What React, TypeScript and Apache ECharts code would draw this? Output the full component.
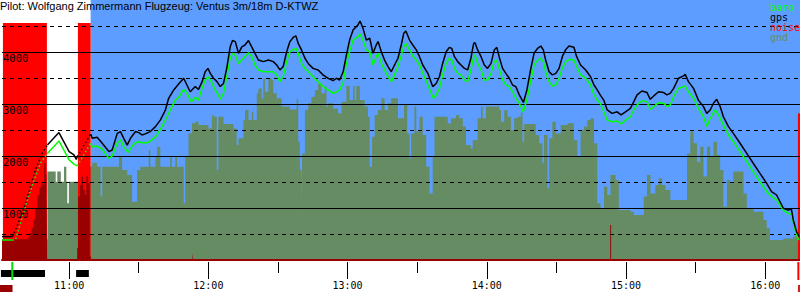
import { useEffect, useRef } from "react";
import * as echarts from "echarts";

const chartTitle = "Pilot: Wolfgang Zimmermann Flugzeug: Ventus 3m/18m D-KTWZ";

// time axis in minutes since midnight
const timeStart = 630.2;
const timeEnd = 975.0;
const hourTicks = [660, 720, 780, 840, 900, 960];
const altitudeLabels = [1000, 2000, 3000, 4000];

// engine running periods (red background, black bars under the axis)
const enginePeriods = [
  [630.6, 649.6],
  [663.0, 668.5],
];
const engineNoiseTop = 4560;
// final engine / noise marker at landing
const landingNoise = [974.1, 975.0, 2820];
// periods logged with sparse fixes (drawn dotted)
const sparseLogging = [
  [634.7, 649.8],
  [662.7, 668.5],
];
const takeoffTime = 635.5;
const landingTime = 974.3;
const groundPeriods = [
  [630.2, 635.6],
  [974.1, 975.0],
];

const gpsTrack: number[][] = [
  [630.2, 450], [634.7, 450],
  [636.0, 575], [639.0, 905], [642.1, 1345], [644.6, 1730], [647.7, 2060], [649.8, 2210],
  [654.8, 2450], [659.2, 2085], [661.3, 2020], [662.3, 1935], [662.7, 1985],
  [668.5, 2425],
  [669.2, 2340], [671.3, 2360], [673.5, 2245], [676.4, 2085], [677.8, 2115], [680.0, 2435],
  [681.4, 2470], [682.8, 2340], [684.3, 2210], [685.7, 2340], [687.9, 2470], [689.3, 2450],
  [690.7, 2405], [692.1, 2425], [694.3, 2470], [696.5, 2565], [698.6, 2690], [700.8, 2885],
  [702.2, 3110], [704.4, 3270], [706.5, 3385], [708.7, 3495], [710.1, 3365], [711.5, 3235],
  [713.7, 3335], [715.1, 3280], [716.6, 3420], [718.0, 3620], [719.2, 3685], [720.2, 3590],
  [721.6, 3495], [723.1, 3430], [724.5, 3335], [725.9, 3395], [727.3, 3685], [728.8, 4100],
  [729.8, 4220], [731.0, 4200], [732.4, 3975], [733.8, 4100], [735.2, 4135], [736.7, 4220],
  [738.1, 4100], [739.5, 3975], [741.0, 3845], [743.1, 3815], [745.3, 3845], [747.4, 3815],
  [748.9, 3750], [750.3, 3655], [751.7, 3720], [753.2, 4005], [754.6, 4200], [756.0, 4280],
  [757.2, 4310], [758.2, 4165], [759.6, 4040], [761.1, 3880], [762.5, 3780], [764.6, 3685],
  [766.8, 3655], [768.9, 3560], [771.1, 3495], [773.3, 3450], [774.7, 3495], [776.1, 3460],
  [777.6, 3620], [779.0, 3940], [780.4, 4230], [781.9, 4425], [784.0, 4520], [784.9, 4595],
  [786.2, 4455], [787.6, 4230], [789.1, 4265], [790.5, 3975], [791.9, 4135], [792.7, 4200],
  [794.1, 4005], [795.5, 3845], [797.0, 3720], [798.4, 3620], [799.8, 3750], [801.3, 3880],
  [802.7, 4135], [803.8, 4360], [804.7, 4405], [806.3, 4230], [807.7, 4135], [809.2, 4040],
  [810.6, 3910], [812.0, 3750], [814.2, 3590], [816.3, 3335], [817.8, 3395], [819.2, 3525],
  [820.6, 3780], [822.1, 4005], [823.5, 4090], [824.5, 4070], [825.7, 3910], [827.1, 3815],
  [828.5, 3750], [830.0, 3685], [831.4, 3655], [832.8, 3880], [834.0, 4165], [834.6, 4180],
  [835.7, 4040], [837.2, 3910], [838.6, 3750], [840.0, 3685], [841.5, 3780], [842.9, 4040],
  [844.0, 4090], [845.0, 3910], [846.5, 3685], [847.9, 3590], [849.4, 3495], [850.8, 3365],
  [852.2, 3335], [853.7, 3175], [855.5, 3030], [857.0, 3270], [858.7, 3685], [860.1, 3975],
  [861.6, 4070], [863.0, 4115], [864.1, 4040], [865.1, 3845], [866.6, 3620], [868.0, 3560],
  [869.5, 3590], [870.9, 3685], [872.3, 3910], [873.8, 4050], [875.2, 4115], [877.3, 4090],
  [878.5, 3910], [880.2, 3750], [882.4, 3655], [884.5, 3525], [886.0, 3365], [887.4, 3270],
  [888.8, 3165], [890.2, 3075], [891.7, 2885], [893.8, 2820], [896.0, 2850], [897.7, 2790],
  [899.6, 2850], [901.7, 2915], [903.2, 3045], [904.6, 3175], [906.7, 3250], [908.9, 3220],
  [910.3, 3090], [911.8, 3155], [913.9, 3235], [916.1, 3220], [917.5, 3175], [918.9, 3205],
  [920.4, 3300], [922.5, 3495], [924.7, 3540], [925.4, 3570], [926.8, 3430], [929.0, 3300],
  [931.1, 3075], [933.3, 2950], [934.7, 2820], [936.2, 2885], [937.6, 3015], [939.0, 3090],
  [940.5, 2950], [941.9, 2755], [944.1, 2565], [946.2, 2435], [949.1, 2245], [952.0, 2050],
  [954.8, 1860], [957.7, 1665], [960.6, 1475], [962.7, 1315], [964.9, 1250], [967.8, 995],
  [969.9, 960], [971.3, 975], [972.1, 770], [973.5, 545], [974.6, 450],
];

const baroTrack: number[][] = [
  [630.2, 385], [634.7, 385],
  [636.0, 385], [638.2, 710], [641.2, 1155], [644.1, 1540], [646.9, 1865], [649.8, 2050],
  [654.8, 2290], [659.2, 1925], [661.3, 1845], [662.7, 1810],
  [668.5, 2245],
  [669.2, 2180], [671.3, 2190], [673.5, 2130], [676.4, 1955], [677.8, 2000], [680.0, 2245],
  [681.4, 2310], [682.8, 2180], [684.7, 2065], [686.4, 2190], [687.9, 2255], [689.3, 2275],
  [690.7, 2255], [692.9, 2255], [695.0, 2310], [697.2, 2405], [699.3, 2565], [701.5, 2755],
  [703.6, 2950], [705.1, 3075], [706.5, 3130], [708.7, 3280], [710.1, 3205], [712.0, 3045],
  [713.7, 3130], [715.1, 3075], [716.6, 3300], [718.0, 3460], [719.2, 3525], [720.6, 3430],
  [722.3, 3270], [723.7, 3175], [724.5, 3090], [725.9, 3205], [727.3, 3525], [728.8, 3880],
  [729.8, 3975], [731.0, 3940], [732.4, 3780], [733.8, 3845], [735.2, 3910], [736.7, 3985],
  [738.1, 3910], [739.5, 3750], [741.0, 3655], [743.1, 3620], [745.3, 3620], [747.4, 3620],
  [748.9, 3560], [750.3, 3430], [751.7, 3525], [753.2, 3815], [754.6, 4005], [756.0, 4050],
  [757.2, 4070], [758.2, 3975], [759.6, 3780], [761.1, 3685], [762.5, 3620], [764.6, 3525],
  [766.8, 3430], [768.9, 3335], [771.1, 3270], [773.3, 3205], [774.7, 3235], [776.1, 3270],
  [777.6, 3395], [779.0, 3780], [780.4, 4005], [781.9, 4230], [784.0, 4295], [784.9, 4345],
  [786.2, 4230], [787.6, 4040], [789.1, 4005], [790.5, 3750], [791.9, 3910], [792.7, 3975],
  [794.1, 3780], [795.5, 3655], [797.0, 3525], [798.4, 3430], [799.8, 3560], [801.3, 3720],
  [802.7, 3925], [803.8, 4100], [804.7, 4165], [806.3, 4040], [807.7, 3925], [809.2, 3845],
  [810.6, 3750], [812.0, 3590], [814.2, 3365], [816.6, 3110], [817.8, 3175], [819.2, 3300],
  [820.6, 3560], [822.1, 3780], [823.5, 3880], [824.5, 3845], [825.7, 3685], [827.1, 3590],
  [828.5, 3560], [830.0, 3460], [831.4, 3430], [832.8, 3655], [834.0, 3910], [834.6, 3940],
  [835.7, 3780], [837.2, 3655], [838.6, 3460], [840.0, 3460], [841.5, 3590], [842.9, 3815],
  [844.0, 3845], [845.0, 3685], [846.5, 3460], [847.9, 3365], [849.4, 3335], [850.8, 3235],
  [852.2, 3110], [853.7, 3015], [855.4, 2850], [857.0, 3075], [858.7, 3460], [860.1, 3750],
  [861.6, 3845], [863.0, 3880], [864.1, 3815], [865.1, 3620], [866.6, 3430], [868.0, 3345],
  [869.5, 3365], [870.9, 3495], [872.3, 3685], [873.8, 3815], [875.2, 3860], [877.3, 3845],
  [878.5, 3720], [880.2, 3560], [882.4, 3495], [884.5, 3365], [886.0, 3175], [887.4, 3075],
  [888.8, 3005], [890.2, 2850], [891.7, 2690], [893.8, 2660], [896.0, 2675], [897.7, 2615],
  [899.6, 2690], [901.7, 2755], [903.2, 2885], [904.6, 2980], [906.7, 3065], [908.9, 3045],
  [910.3, 2895], [911.8, 2950], [913.9, 3025], [916.1, 3015], [917.5, 2950], [918.9, 2980],
  [920.4, 3140], [922.5, 3300], [924.7, 3335], [925.4, 3345], [926.8, 3235], [929.0, 3110],
  [931.1, 2915], [933.3, 2755], [934.7, 2565], [936.2, 2725], [938.3, 2885], [939.8, 2790],
  [941.9, 2595], [944.1, 2405], [946.2, 2275], [949.1, 2085], [952.0, 1890], [954.8, 1700],
  [957.7, 1505], [960.6, 1315], [962.7, 1220], [964.9, 1155], [967.8, 960], [969.9, 895],
  [971.3, 885], [972.7, 610], [974.1, 415], [974.6, 385],
];

// terrain elevation under the track (held until the next point)
const groundElevation: number[][] = [
  [630.2, 400], [649.8, 1700], [653.4, 1505], [654.1, 1700], [655.6, 1505], [657.0, 1795],
  [658.0, 1505], [658.4, 1090], [659.1, 1505], [663.2, 1800], [669.2, 1870], [671.3, 1795],
  [672.8, 1220], [673.5, 1795], [680.7, 1985], [682.1, 1730], [684.3, 1635], [686.4, 1120],
  [688.6, 1730], [690.0, 1795], [693.6, 2115], [694.3, 1795], [696.5, 1985], [697.2, 2180],
  [698.6, 1795], [702.9, 1985], [703.6, 1795], [705.1, 1985], [705.8, 1795], [708.7, 1090],
  [709.4, 1985], [710.8, 2435], [712.3, 2630], [713.7, 2660], [715.1, 2595], [719.4, 2530],
  [720.9, 2790], [721.6, 2755], [723.0, 1730], [723.7, 2755], [725.9, 2615], [730.2, 2530],
  [731.6, 2210], [732.4, 2340], [734.5, 2690], [735.2, 2885], [736.7, 2690], [738.1, 2850],
  [738.8, 2690], [740.3, 3205], [741.0, 3300], [742.4, 3110], [743.1, 3495], [743.8, 3235],
  [745.3, 3495], [746.7, 3460], [747.4, 3205], [748.9, 3110], [751.0, 2950], [754.6, 2895],
  [757.5, 3090], [758.2, 2275], [758.9, 1730], [759.6, 960], [759.9, 2050], [761.1, 2885],
  [762.5, 3015], [763.9, 3140], [765.4, 3270], [766.8, 3395], [768.2, 3205], [769.7, 3335],
  [770.4, 2950], [771.1, 3015], [773.3, 2915], [775.4, 2820], [776.9, 3045], [779.0, 3345],
  [780.4, 3075], [781.9, 3345], [782.6, 3075], [783.3, 3345], [784.8, 3075], [786.9, 2950],
  [788.3, 2755], [789.1, 1795], [790.1, 2370], [791.2, 2790], [792.6, 2885], [794.1, 3110],
  [795.5, 2885], [797.0, 3015], [798.4, 3110], [801.3, 2725], [803.9, 2980], [805.3, 2435],
  [806.3, 1955], [807.0, 2435], [808.4, 2950], [809.2, 2470], [810.6, 2755], [812.0, 2405],
  [813.5, 1795], [814.9, 1280], [816.3, 1985], [817.1, 2755], [822.8, 2630], [824.2, 2725],
  [826.4, 2790], [827.8, 2725], [829.3, 2565], [830.7, 2210], [832.8, 2145], [833.6, 2310],
  [835.7, 2725], [837.2, 2950], [837.9, 2725], [839.3, 2950], [845.1, 2885], [845.8, 2660],
  [847.2, 2885], [848.6, 2755], [850.1, 2500], [851.5, 2725], [852.9, 2755], [854.4, 2835],
  [855.1, 2275], [855.8, 2615], [860.8, 2405], [862.3, 2245], [863.7, 1860], [864.4, 2405],
  [865.9, 1380], [866.6, 2340], [868.0, 2660], [869.5, 2435], [871.6, 2595], [874.5, 2630],
  [877.3, 2310], [878.8, 1985], [880.2, 2500], [881.7, 2565], [883.1, 2690], [884.5, 2725],
  [886.0, 2245], [887.4, 1090], [888.8, 995], [890.3, 1410], [891.7, 1250], [893.1, 1635],
  [895.3, 1540], [896.7, 960], [901.8, 930], [903.2, 865], [907.5, 1220], [908.9, 1635],
  [910.4, 1280], [912.5, 1440], [914.0, 1570], [915.4, 1440], [916.8, 1345], [919.0, 1155],
  [926.2, 2050], [927.6, 2470], [929.0, 2245], [930.5, 1890], [931.9, 2180], [933.3, 1605],
  [934.8, 2180], [936.2, 1985], [937.6, 2275], [939.1, 2020], [940.5, 1730], [941.9, 1025],
  [943.4, 1540], [944.8, 1475], [946.2, 1700], [950.6, 1280], [952.0, 995], [954.9, 930],
  [959.2, 770], [960.6, 610], [962.0, 385], [967.8, 415], [972.1, 450], [975.0, 450],
];

// engine noise level, drawn on the altitude scale
const noiseLevel: number[][] = [
  [630.2, 400], [641.2, 430], [642.1, 520], [643.0, 620], [643.8, 780], [644.6, 1000],
  [645.5, 1250], [646.4, 1400], [647.2, 1500], [647.7, 1450], [648.4, 1860], [649.0, 1650],
  [649.4, 1300], [649.7, 15], [662.7, 225], [663.1, 1220], [663.9, 1440], [664.6, 1605],
  [665.3, 1345], [666.0, 1250], [666.6, 1605], [667.4, 1475], [668.1, 65], [668.6, 15],
  [712.5, 135], [712.8, 15], [893.0, 675], [893.4, 15], [975.0, 15],
];

const C = {
  sky: "#5c9dff",
  white: "#ffffff",
  engine: "#ff0000",
  noise: "#990000",
  ground: "#668c64",
  baro: "#00ff00",
  gps: "#000000",
};
const MONO = "DejaVu Sans Mono";

function splitTrack(track: number[][], ranges: number[][]) {
  const bounds = [track[0][0], ...ranges.flat(), track[track.length - 1][0]];
  const solid: number[][][] = [];
  const dotted: number[][][] = [];
  for (let i = 0; i < bounds.length - 1; i++) {
    const a = bounds[i];
    const b = bounds[i + 1];
    const pts = track.filter(([t]) => t >= a && t <= b);
    (i % 2 === 0 ? solid : dotted).push(pts);
  }
  return { solid, dotted };
}

function trackSeries(name: string, track: number[][], color: string) {
  const { solid, dotted } = splitTrack(track, sparseLogging);
  const mk = (pts: number[][], dots: boolean) => ({
    type: "line",
    name,
    data: pts,
    xAxisIndex: 0,
    yAxisIndex: 0,
    symbol: "none",
    showSymbol: false,
    silent: true,
    z: 6,
    color,
    lineStyle: { color, width: 1.5, type: dots ? [1.5, 2.5] : "solid" },
  });
  return [...solid.map((p) => mk(p, false)), ...dotted.map((p) => mk(p, true))];
}

function bandSeries(data: number[][], color: string, z: number) {
  return {
    type: "custom",
    xAxisIndex: 0,
    yAxisIndex: 0,
    silent: true,
    z,
    data,
    encode: { x: [0, 1], y: 2 },
    renderItem: (_p: any, api: any) => {
      const a = api.coord([api.value(0), api.value(2)]);
      const b = api.coord([api.value(1), 0]);
      return {
        type: "rect",
        shape: { x: a[0], y: a[1], width: b[0] - a[0], height: b[1] - a[1] },
        style: { fill: color },
      };
    },
  };
}

const fiveMinuteTicks: number[] = [];
for (let t = Math.ceil(timeStart / 5) * 5; t <= timeEnd; t += 5) fiveMinuteTicks.push(t);
const halfHourTicks = fiveMinuteTicks.filter((t) => t % 30 === 0);

function fmtTime(v: number) {
  const h = Math.floor(v / 60);
  const m = Math.round(v - h * 60);
  return `${h}:${String(m).padStart(2, "0")}`;
}

function tickAxis(ticks: number[], length: number, labels: boolean) {
  return {
    type: "value",
    gridIndex: 1,
    min: timeStart,
    max: timeEnd,
    position: "top",
    axisLine: { show: false },
    splitLine: { show: false },
    axisTick: { show: true, inside: true, length, customValues: ticks, lineStyle: { color: "#000", width: 1 } },
    axisLabel: labels
      ? {
          show: true,
          inside: true,
          margin: 18,
          customValues: hourTicks,
          formatter: (v: number) => fmtTime(v),
          fontFamily: MONO,
          fontSize: 10,
          color: "#000",
        }
      : { show: false },
  };
}

export default function App() {
  const ref = useRef<HTMLDivElement>(null);
  useEffect(() => {
    if (!ref.current) return;
    const chart = echarts.init(ref.current, undefined, { renderer: "svg" });
    const markerRows = [
      ...enginePeriods.map(([s, e]) => [s, e, 0]),
      [takeoffTime, takeoffTime, 1],
      [landingTime, landingTime, 2],
      ...groundPeriods.map(([s, e]) => [s, e, 3]),
    ];
    const option: any = {
      animation: false,
      backgroundColor: "#ffffff",
      title: {
        text: chartTitle,
        left: 0,
        top: 0,
        padding: 0,
        z: 10,
        textStyle: { fontFamily: "Liberation Sans", fontSize: 11, fontWeight: "normal", color: "#000" },
      },
      legend: {
        orient: "vertical",
        left: 765,
        top: 2,
        padding: 0,
        itemGap: 0,
        itemWidth: 0,
        itemHeight: 10,
        icon: "none",
        selectedMode: false,
        z: 10,
        textStyle: { fontFamily: MONO, fontSize: 10, lineHeight: 10 },
        data: [
          { name: "baro", textStyle: { color: C.baro } },
          { name: "gps", textStyle: { color: C.gps } },
          { name: "noise", textStyle: { color: C.engine } },
          { name: "gnd", textStyle: { color: C.ground } },
        ],
      },
      grid: [
        { left: 0, right: 0, top: 0, height: 260, show: true, backgroundColor: C.sky, borderWidth: 0 },
        { left: 0, right: 0, top: 262, height: 38, show: false },
      ],
      xAxis: [
        {
          type: "value",
          gridIndex: 0,
          min: timeStart,
          max: timeEnd,
          position: "bottom",
          z: 5,
          axisLine: { show: true, onZero: false, lineStyle: { color: C.noise, width: 2 } },
          axisTick: { show: false },
          axisLabel: { show: false },
          splitLine: { show: false },
        },
        tickAxis(fiveMinuteTicks, 6, false),
        tickAxis(halfHourTicks, 11, false),
        tickAxis(hourTicks, 17, true),
      ],
      yAxis: [
        {
          type: "value",
          gridIndex: 0,
          min: 0,
          max: 5000,
          interval: 1000,
          z: 5,
          axisLine: { show: false },
          axisTick: { show: false },
          splitLine: { show: true, showMinLine: false, showMaxLine: false, lineStyle: { color: "#000", width: 1 } },
          axisLabel: {
            inside: true,
            margin: 1,
            verticalAlign: "top",
            fontFamily: MONO,
            fontSize: 10.5,
            color: "#000",
            formatter: (v: number) => (altitudeLabels.includes(v) ? String(v) : ""),
          },
        },
        {
          type: "value",
          gridIndex: 0,
          min: 0,
          max: 5000,
          interval: 500,
          z: 5,
          axisLine: { show: false },
          axisTick: { show: false },
          axisLabel: { show: false },
          splitLine: { show: true, showMinLine: false, showMaxLine: false, lineStyle: { color: "#000", width: 1, type: [4, 4] } },
        },
        { type: "value", gridIndex: 1, min: 0, max: 1, show: false },
      ],
      series: [
        bandSeries([[timeStart, enginePeriods[enginePeriods.length - 1][1], 5000]], C.white, 1),
        {
          type: "line",
          name: "gnd",
          data: groundElevation,
          xAxisIndex: 0,
          yAxisIndex: 0,
          step: "end",
          symbol: "none",
          silent: true,
          z: 2,
          color: C.ground,
          lineStyle: { width: 0 },
          areaStyle: { color: C.ground, opacity: 1 },
        },
        bandSeries([...enginePeriods.map(([s, e]) => [s, e, engineNoiseTop]), landingNoise], C.engine, 3),
        {
          type: "line",
          name: "noise",
          data: noiseLevel,
          xAxisIndex: 0,
          yAxisIndex: 0,
          step: "end",
          symbol: "none",
          silent: true,
          z: 4,
          color: C.engine,
          lineStyle: { width: 0 },
          areaStyle: { color: C.noise, opacity: 1 },
        },
        ...trackSeries("baro", baroTrack, C.baro),
        ...trackSeries("gps", gpsTrack, C.gps),
        {
          type: "custom",
          xAxisIndex: 1,
          yAxisIndex: 2,
          silent: true,
          z: 6,
          data: markerRows,
          encode: { x: [0, 1] },
          renderItem: (params: any, api: any) => {
            const kind = api.value(2);
            const x0 = api.coord([api.value(0), 0])[0];
            const x1 = api.coord([api.value(1), 0])[0];
            const top = params.coordSys.y;
            if (kind === 0)
              return { type: "rect", shape: { x: x0, y: top + 8, width: x1 - x0, height: 7 }, style: { fill: "#000" } };
            if (kind === 1 || kind === 2)
              return {
                type: "rect",
                shape: { x: x0 - 1, y: top, width: 2, height: 18 },
                style: { fill: kind === 1 ? "#00dd00" : C.engine },
              };
            return { type: "rect", shape: { x: x0, y: top + 23, width: x1 - x0, height: 7 }, style: { fill: kind === 3 && x0 < 400 ? C.noise : "#cc2222" } };
          },
        },
      ],
    };
    chart.setOption(option);
    return () => chart.dispose();
  }, []);
  return <div ref={ref} style={{ position: "fixed", left: 0, top: 0, width: 800, height: 300 }} />;
}
